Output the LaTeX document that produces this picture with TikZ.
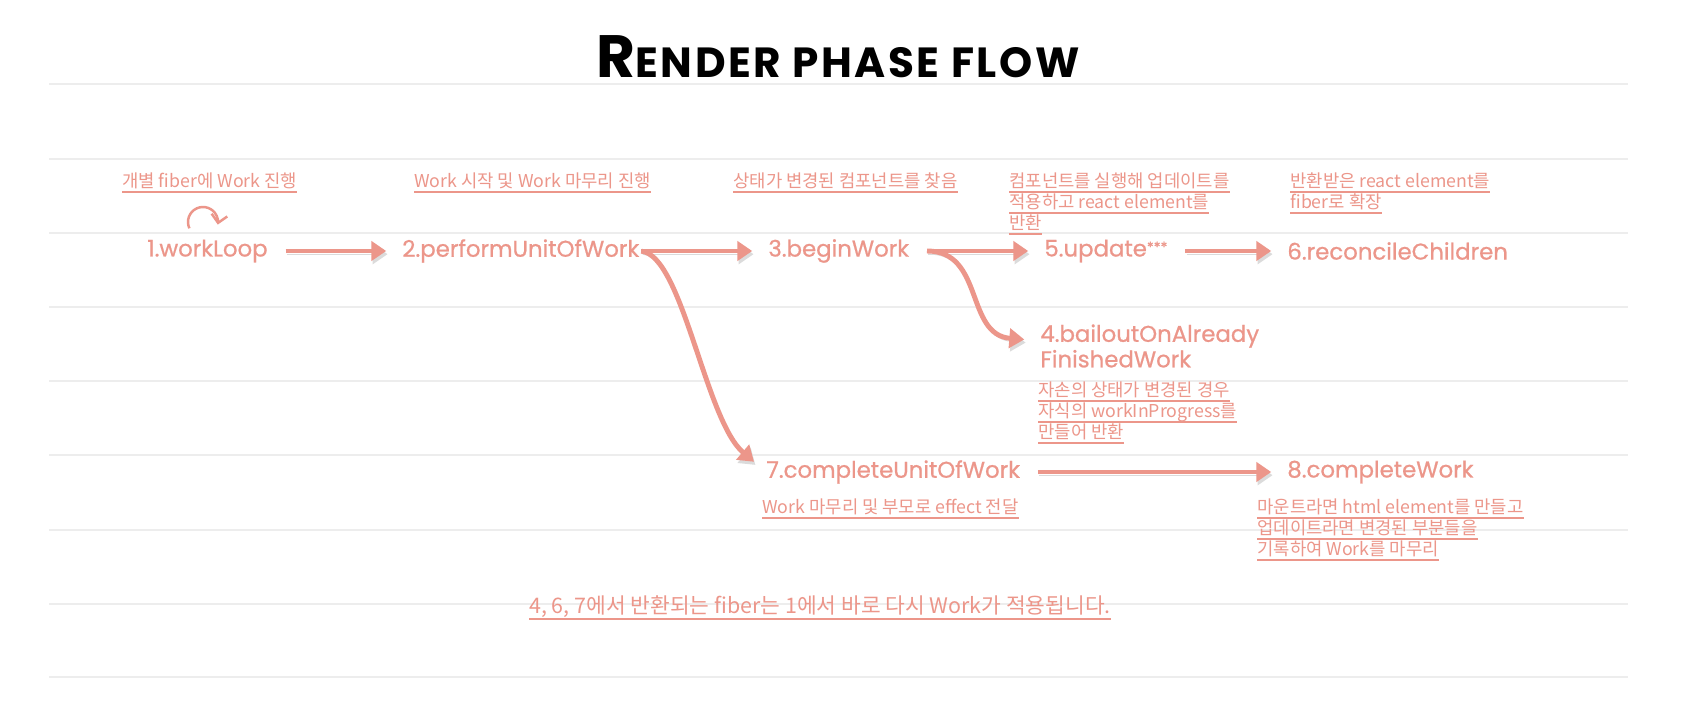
\documentclass[tikz,border=0pt]{standalone}
\usepackage{fontspec}
\usetikzlibrary{arrows.meta}
\newfontfamily\krfont{Noto Sans CJK KR}
\newfontfamily\stepfont{Poppins}[FakeBold=0.7]
\newfontfamily\titlefont{Poppins}[LetterSpace=6]
\definecolor{salmon}{RGB}{236,150,138}
\newsavebox\ulbox
\newcommand\uln[1]{\sbox\ulbox{#1}\rlap{\rule[-3.4pt]{\wd\ulbox}{1.1pt}}\usebox\ulbox}
\newcommand\stars{\raisebox{2.5pt}{\fontsize{8}{8}\selectfont ***}}
\tikzset{
  fnode/.style={text=salmon, font=\stepfont\fontsize{13}{14.5}\selectfont, inner sep=0pt, anchor=west, align=left},
  note/.style={text=salmon, font=\krfont\fontsize{10.1}{12}\selectfont, inner sep=0pt, anchor=north west, align=left},
  flow/.style={draw=salmon, line width=2.8pt, -{Triangle[length=8.5pt,width=11pt]},
    shorten <=10pt, shorten >=9pt,
    preaction={draw=black!14, transform canvas={shift={(0.8pt,-1.8pt)}}}},
}
\begin{document}
\begin{tikzpicture}[x=0.02cm, y=-0.02cm]
    \useasboundingbox[fill=white] (0,0) rectangle (1696,726);
    % Decoration
    \foreach \gy in {84,159,233,307,381,455,530,604,677}
        \draw[black!7, line width=0.8pt] (49,\gy) -- (1628,\gy);
    % Title
    \node[font=\titlefont\bfseries\fontsize{24}{28}\selectfont] (title) at (838,57)
        {{\fontsize{34}{34}\selectfont R}ENDER PHASE FLOW};
    % Steps
    \node[fnode] (n1) at (147,251) {1.workLoop};
    \node[fnode] (n2) at (402,251) {2.performUnitOfWork};
    \node[fnode] (n3) at (768,251) {3.beginWork};
    \node[fnode] (n5) at (1044,251) {5.update\stars};
    \node[fnode] (n6) at (1287,251) {6.reconcileChildren};
    \node[fnode] (n4) at (1040,346) {4.bailoutOnAlready\\FinishedWork};
    \node[fnode] (n7) at (766,472) {7.completeUnitOfWork};
    \node[fnode] (n8) at (1287,472) {8.completeWork};
    % Notes
    \node[note] (t1) at (122,172) {\uln{개별 fiber에 Work 진행}};
    \node[note] (t2) at (414,172) {\uln{Work 시작 및 Work 마무리 진행}};
    \node[note] (t3) at (733,172) {\uln{상태가 변경된 컴포넌트를 찾음}};
    \node[note] (t5) at (1009,172) {\uln{컴포넌트를 실행해 업데이트를}\\\uln{적용하고 react element를}\\\uln{반환}};
    \node[note] (t6) at (1290,172) {\uln{반환받은 react element를}\\\uln{fiber로 확장}};
    \node[note] (t4) at (1038,381) {\uln{자손의 상태가 변경된 경우}\\\uln{자식의 workInProgress를}\\\uln{만들어 반환}};
    \node[note] (t7) at (762,498) {\uln{Work 마무리 및 부모로 effect 전달}};
    \node[note] (t8) at (1257,498) {\uln{마운트라면 html element를 만들고}\\\uln{업데이트라면 변경된 부분들을}\\\uln{기록하여 Work를 마무리}};
    \node[note, anchor=center, font=\krfont\fontsize{12.2}{14}\selectfont] (bottom) at (820,608)
        {\uln{4, 6, 7에서 반환되는 fiber는 1에서 바로 다시 Work가 적용됩니다.}};
    % Loop
    \coordinate (loopc) at (203,222);
    \draw[salmon, line width=1.4pt, -{Straight Barb[length=4.5pt,width=9pt]}]
        ([shift={(155:15)}]loopc) arc[start angle=155, end angle=370, radius=15];
    % Arrows
    \draw[flow] (n1.east) -- (n2.west);
    \draw[flow, shorten <=1pt] (n2.east) -- (n3.west);
    \draw[flow, shorten <=1pt] (n2.east) .. controls +(43,4) and +(-61,-52) .. (n7.west);
    \draw[flow] (n3.east) -- (n5.west);
    \draw[flow] (n3.east) .. controls +(75,0) and +(-75,-6) .. ([yshift=3pt]n4.west);
    \draw[flow] (n5.east) -- (n6.west);
    \draw[flow] (n7.east) -- (n8.west);
\end{tikzpicture}
\end{document}
